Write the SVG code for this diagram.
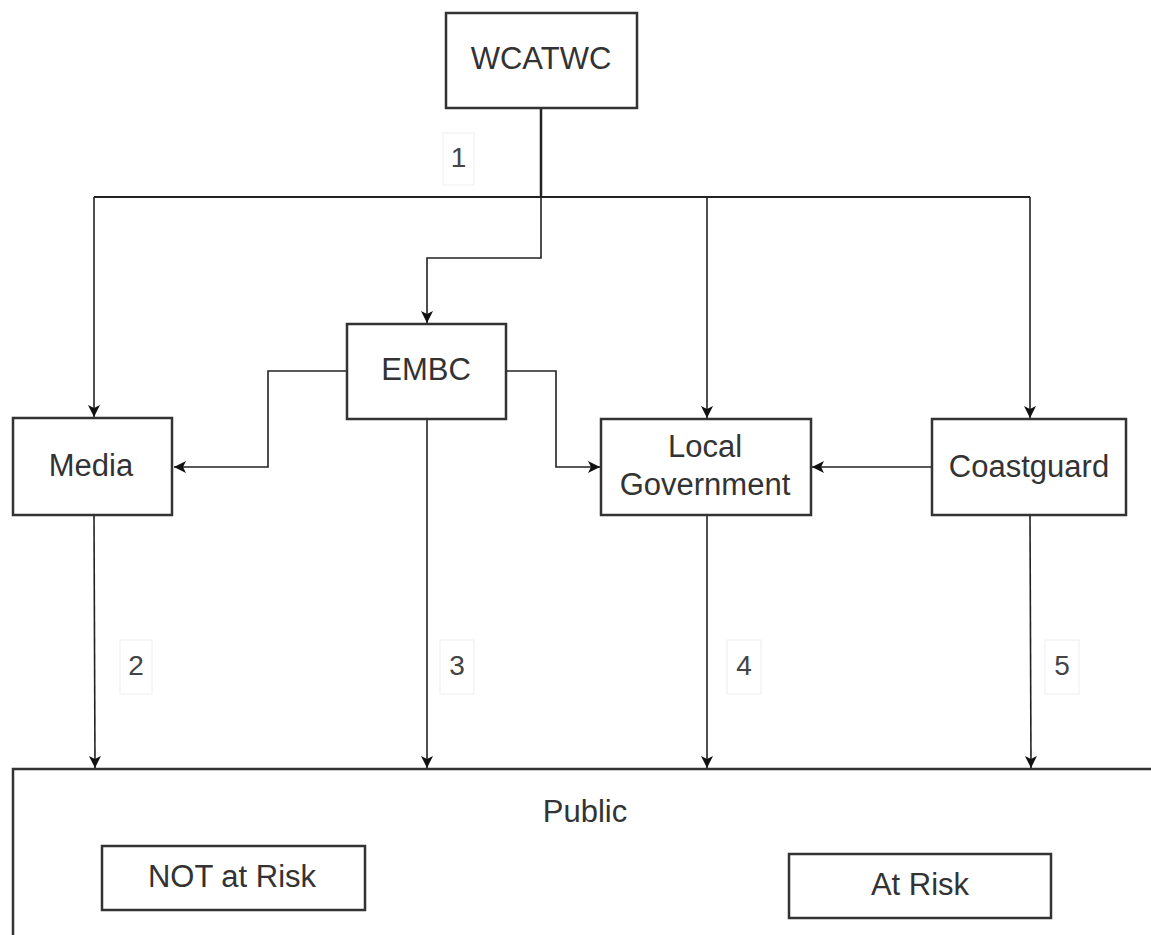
<svg xmlns="http://www.w3.org/2000/svg" width="1151" height="935" viewBox="0 0 1151 935">
<defs>
<marker id="ah" markerWidth="14" markerHeight="14" refX="12" refY="6" orient="auto" markerUnits="userSpaceOnUse">
<path d="M0,0 L12,6 L0,12 L3,6 Z" fill="#111"/>
</marker>
<style>
.box{fill:#fff;stroke:#333;stroke-width:2.5}
.t{font-family:"Liberation Sans",Arial,sans-serif;font-size:31px;fill:#333;text-anchor:middle}
.n{font-family:"Liberation Sans",Arial,sans-serif;font-size:28px;fill:#444;text-anchor:middle}
.lb{fill:#fff;stroke:#eeeeee;stroke-width:1}
.c{fill:none;stroke:#222;stroke-width:1.6}
</style>
</defs>
<rect width="1151" height="935" fill="#fff"/>
<g id="public">
<rect class="box" x="13" y="769" width="1150" height="180"/>
<text class="t" x="585" y="822">Public</text>
</g>
<g id="connectors">
<path d="M541,108 V197" fill="none" stroke="#222" stroke-width="2.5"/>
<path d="M94,197 H1030" fill="none" stroke="#222" stroke-width="2"/>
<path class="c" d="M94,197 V417" marker-end="url(#ah)"/>
<path class="c" d="M541,197 V258 H427 V323" marker-end="url(#ah)"/>
<path class="c" d="M707,197 V418" marker-end="url(#ah)"/>
<path class="c" d="M1030,197 V418" marker-end="url(#ah)"/>
<path class="c" d="M347,371 H268 V467 H174" marker-end="url(#ah)"/>
<path class="c" d="M506,371 H556 V467 H600" marker-end="url(#ah)"/>
<path class="c" d="M932,467 H812" marker-end="url(#ah)"/>
<path class="c" d="M94,515 L95,768" marker-end="url(#ah)"/>
<path class="c" d="M427,419 V768" marker-end="url(#ah)"/>
<path class="c" d="M707,515 V768" marker-end="url(#ah)"/>
<path class="c" d="M1030,515 L1031,768" marker-end="url(#ah)"/>
<rect class="lb" x="443" y="133" width="31" height="52"/>
<text class="n" x="458.5" y="167">1</text>
<rect class="lb" x="120" y="640" width="32" height="54"/>
<text class="n" x="136" y="675">2</text>
<rect class="lb" x="440" y="640" width="34" height="54"/>
<text class="n" x="457" y="675">3</text>
<rect class="lb" x="727" y="640" width="34" height="54"/>
<text class="n" x="744" y="675">4</text>
<rect class="lb" x="1045" y="640" width="34" height="54"/>
<text class="n" x="1062" y="675">5</text>
</g>
<g id="wcatwc">
<rect class="box" x="446" y="13" width="191" height="95"/>
<text class="t" x="541" y="69">WCATWC</text>
</g>
<g id="embc">
<rect class="box" x="347" y="324" width="159" height="95"/>
<text class="t" x="426" y="380">EMBC</text>
</g>
<g id="media">
<rect class="box" x="13" y="418" width="159" height="97"/>
<text class="t" x="91" y="476">Media</text>
</g>
<g id="localgov">
<rect class="box" x="601" y="419" width="210" height="96"/>
<text class="t" x="705" y="457">Local</text>
<text class="t" x="705" y="495">Government</text>
</g>
<g id="coastguard">
<rect class="box" x="932" y="419" width="194" height="96"/>
<text class="t" x="1029" y="477">Coastguard</text>
</g>
<g id="notatrisk">
<rect class="box" x="102" y="846" width="263" height="64"/>
<text class="t" x="232" y="887">NOT at Risk</text>
</g>
<g id="atrisk">
<rect class="box" x="789" y="854" width="262" height="64"/>
<text class="t" x="920" y="895">At Risk</text>
</g>
</svg>
